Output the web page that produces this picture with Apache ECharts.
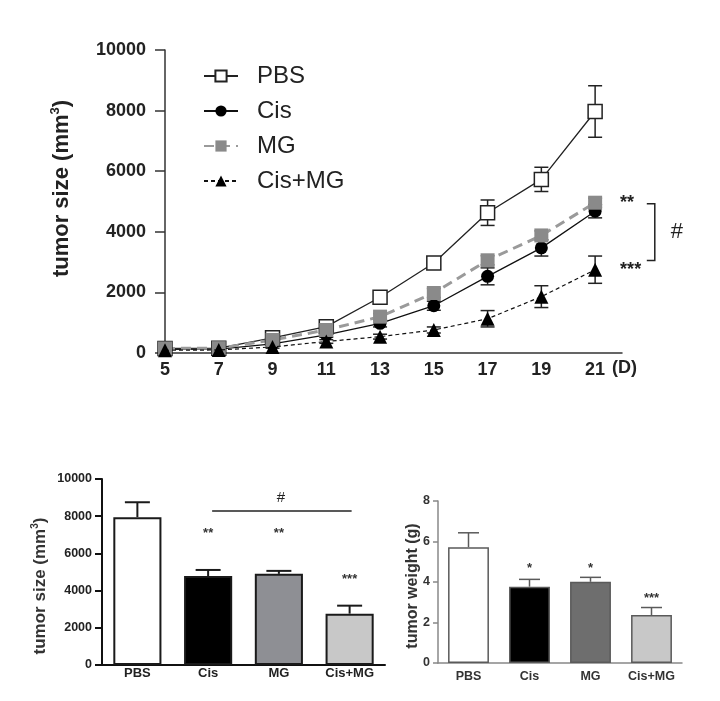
<!DOCTYPE html>
<html><head><meta charset="utf-8">
<script src="https://cdn.jsdelivr.net/npm/echarts@6/dist/echarts.min.js"></script>
<style>html,body{margin:0;padding:0;background:#fff}#c{width:720px;height:701px}</style>
</head><body><div id="c"></div>
<script>
// ---- data ----
var days = [5, 7, 9, 11, 13, 15, 17, 19, 21];
var pbs = [150, 160, 500, 870, 1840, 2970, 4630, 5730, 7970];
var pbsErr = [30, 30, 60, 100, 150, 200, 420, 400, 850];
var cis = [120, 130, 300, 600, 980, 1560, 2530, 3470, 4680];
var cisErr = [20, 20, 50, 80, 120, 150, 280, 270, 220];
var mg = [150, 160, 430, 760, 1200, 1980, 3060, 3880, 4960];
var mgErr = [20, 20, 50, 80, 100, 150, 150, 150, 150];
var cismg = [90, 100, 200, 380, 540, 760, 1130, 1860, 2750];
var cismgErr = [20, 20, 40, 60, 80, 100, 270, 360, 450];

var groups = ['PBS', 'Cis', 'MG', 'Cis+MG'];
var sizeVals = [7950, 4780, 4900, 2760];
var sizeErr = [800, 330, 160, 430];
var weightVals = [5.72, 3.77, 4.01, 2.37];
var weightErr = [0.71, 0.36, 0.22, 0.37];
var sizeSig = ['', '**', '**', '***'];
var weightSig = ['', '*', '*', '***'];

var F = 'Liberation Sans, Arial, sans-serif';
var leftColors = ['#ffffff', '#000000', '#8e8f94', '#c8c8c8'];
var rightColors = ['#ffffff', '#000000', '#6e6e6e', '#c8c8c8'];

function pairs(xs, ys) { return xs.map(function (x, i) { return [x, ys[i]]; }); }
function errData(xs, ys, es) { return xs.map(function (x, i) { return [x, ys[i], es[i]]; }); }
function plain(v) { return String(v); }

function errRender(capW, both, color, lw) {
  return function (params, api) {
    var x = api.value(0), y = api.value(1), e = api.value(2);
    var c = api.coord([x, y]);
    var hi = api.coord([x, y + e]);
    var lo = both ? api.coord([x, y - e]) : c;
    var h = capW / 2;
    var st = { stroke: color, lineWidth: lw, fill: null };
    var ch = [
      { type: 'line', shape: { x1: c[0], y1: lo[1], x2: c[0], y2: hi[1] }, style: st },
      { type: 'line', shape: { x1: c[0] - h, y1: hi[1], x2: c[0] + h, y2: hi[1] }, style: st }
    ];
    if (both) ch.push({ type: 'line', shape: { x1: c[0] - h, y1: lo[1], x2: c[0] + h, y2: lo[1] }, style: st });
    return { type: 'group', children: ch };
  };
}

var last = days.length - 1;
function sigLabel(arr, idx, txt, dist) {
  return arr.map(function (v, i) {
    if (i !== idx) return [days[i], v];
    return { value: [days[i], v], label: { show: true, position: 'right', distance: dist, formatter: txt, fontFamily: F, fontSize: 18, fontWeight: 'bold', color: '#222' } };
  });
}

var chart = echarts.init(document.getElementById('c'), null, { renderer: 'canvas' });
var option = {
  animation: false,
  backgroundColor: '#fff',
  textStyle: { fontFamily: F },
  legend: {
    orient: 'vertical', left: 203, top: 64, padding: 0,
    itemWidth: 34, itemHeight: 14, itemGap: 11,
    textStyle: { fontFamily: F, fontSize: 24, color: '#222', lineHeight: 24, padding: [0, 0, 0, 14] },
    data: ['PBS', 'Cis', 'MG', 'Cis+MG']
  },
  grid: [
    { left: 165, right: 98, top: 50, bottom: 348 },
    { left: 102, right: 335, top: 479, bottom: 36 },
    { left: 438, right: 38, top: 501, bottom: 38 }
  ],
  xAxis: [
    {
      gridIndex: 0, type: 'value', min: 5, max: 22, interval: 2,
      splitLine: { show: false },
      axisLine: { lineStyle: { color: '#333', width: 1.5 } },
      axisTick: { show: false },
      axisLabel: { fontFamily: F, fontSize: 18, fontWeight: 'bold', color: '#222', margin: 8,
        formatter: function (v) { return v === 22 ? '' : String(v); } },
      name: '(D)', nameLocation: 'end', nameGap: -10,
      nameTextStyle: { fontFamily: F, fontSize: 18, fontWeight: 'bold', color: '#222', verticalAlign: 'top', padding: [6, 0, 0, 0] }
    },
    {
      gridIndex: 1, type: 'category', data: groups,
      axisLine: { lineStyle: { color: '#111', width: 2 } },
      axisTick: { alignWithLabel: true, length: 4, lineStyle: { color: '#111', width: 2 } },
      axisLabel: { fontFamily: F, fontSize: 13, fontWeight: 'bold', color: '#222', margin: 2 }
    },
    {
      gridIndex: 2, type: 'category', data: groups,
      axisLine: { lineStyle: { color: '#888', width: 1.5 } },
      axisTick: { alignWithLabel: true, length: 4, lineStyle: { color: '#888', width: 1.5 } },
      axisLabel: { fontFamily: F, fontSize: 12.5, fontWeight: 'bold', color: '#333', margin: 7 }
    }
  ],
  yAxis: [
    {
      gridIndex: 0, type: 'value', min: 0, max: 10000, interval: 2000,
      splitLine: { show: false },
      axisLine: { show: true, lineStyle: { color: '#333', width: 1.5 } },
      axisTick: { show: true, length: 10, lineStyle: { color: '#333', width: 1.5 } },
      axisLabel: { fontFamily: F, fontSize: 18, fontWeight: 'bold', color: '#222', margin: 19, formatter: plain },
      name: 'tumor size (mm{sup|3})', nameLocation: 'middle', nameGap: 90, nameRotate: 90, nameMoveOverlap: false,
      nameTextStyle: { fontFamily: F, fontSize: 22, fontWeight: 'bold', color: '#222', lineHeight: 26, padding: [0, 0, 0, 26],
        rich: { sup: { fontFamily: F, fontSize: 13, fontWeight: 'bold', color: '#222', verticalAlign: 'top', lineHeight: 26 } } }
    },
    {
      gridIndex: 1, type: 'value', min: 0, max: 10000, interval: 2000,
      splitLine: { show: false },
      axisLine: { show: true, lineStyle: { color: '#111', width: 2 } },
      axisTick: { show: true, length: 7, lineStyle: { color: '#111', width: 2 } },
      axisLabel: { fontFamily: F, fontSize: 12.5, fontWeight: 'bold', color: '#222', margin: 10, formatter: plain },
      name: 'tumor size (mm{sup|3})', nameLocation: 'middle', nameGap: 52, nameRotate: 90, nameMoveOverlap: false,
      nameTextStyle: { fontFamily: F, fontSize: 17, fontWeight: 'bold', color: '#333', lineHeight: 20, padding: [0, 28, 0, 0],
        rich: { sup: { fontFamily: F, fontSize: 10, fontWeight: 'bold', color: '#333', verticalAlign: 'top', lineHeight: 20 } } }
    },
    {
      gridIndex: 2, type: 'value', min: 0, max: 8, interval: 2,
      splitLine: { show: false },
      axisLine: { show: true, lineStyle: { color: '#888', width: 1.5 } },
      axisTick: { show: true, length: 5, lineStyle: { color: '#888', width: 1.5 } },
      axisLabel: { fontFamily: F, fontSize: 12.5, fontWeight: 'bold', color: '#333', margin: 8, formatter: plain },
      name: 'tumor weight (g)', nameLocation: 'middle', nameGap: 17, nameRotate: 90, nameMoveOverlap: false,
      nameTextStyle: { fontFamily: F, fontSize: 16, fontWeight: 'bold', color: '#333', padding: [0, 8, 0, 0] }
    }
  ],
  series: [
    { type: 'custom', xAxisIndex: 0, yAxisIndex: 0, z: 1, silent: true, renderItem: errRender(14, true, '#222', 1.5), data: errData(days, pbs, pbsErr) },
    { type: 'custom', xAxisIndex: 0, yAxisIndex: 0, z: 1, silent: true, renderItem: errRender(14, true, '#222', 1.5), data: errData(days, cis, cisErr) },
    { type: 'custom', xAxisIndex: 0, yAxisIndex: 0, z: 1, silent: true, renderItem: errRender(14, true, '#777', 1.5), data: errData(days, mg, mgErr) },
    { type: 'custom', xAxisIndex: 0, yAxisIndex: 0, z: 1, silent: true, renderItem: errRender(14, true, '#222', 1.5), data: errData(days, cismg, cismgErr) },
    {
      name: 'PBS', type: 'line', xAxisIndex: 0, yAxisIndex: 0, z: 3,
      data: pairs(days, pbs), symbol: 'rect', symbolSize: 14,
      itemStyle: { color: '#ffffff', borderColor: '#222', borderWidth: 1.5 },
      lineStyle: { color: '#222', width: 1.3 }
    },
    {
      name: 'Cis', type: 'line', xAxisIndex: 0, yAxisIndex: 0, z: 3,
      data: pairs(days, cis), symbol: 'circle', symbolSize: 13,
      itemStyle: { color: '#000' },
      lineStyle: { color: '#111', width: 1.3 }
    },
    {
      name: 'MG', type: 'line', xAxisIndex: 0, yAxisIndex: 0, z: 3,
      data: sigLabel(mg, last, '**', 18), symbol: 'rect', symbolSize: 14,
      itemStyle: { color: '#8a8a8a' },
      lineStyle: { color: '#9a9a9a', width: 3, type: [10, 6] }
    },
    {
      name: 'Cis+MG', type: 'line', xAxisIndex: 0, yAxisIndex: 0, z: 4,
      data: sigLabel(cismg, last, '***', 18), symbol: 'triangle', symbolSize: 14,
      itemStyle: { color: '#000' },
      lineStyle: { color: '#111', width: 1.2, type: [4, 3] }
    },
    {
      type: 'bar', xAxisIndex: 1, yAxisIndex: 1, barWidth: '68%', z: 2,
      data: sizeVals.map(function (v, i) { return { value: v, itemStyle: { color: leftColors[i], borderColor: '#1a1a1a', borderWidth: 2 } }; })
    },
    { type: 'custom', xAxisIndex: 1, yAxisIndex: 1, z: 1, silent: true, renderItem: errRender(25, false, '#1a1a1a', 2), data: errData(groups.map(function (g, i) { return i; }), sizeVals, sizeErr) },
    {
      type: 'bar', xAxisIndex: 2, yAxisIndex: 2, barWidth: '67%', z: 2,
      data: weightVals.map(function (v, i) { return { value: v, itemStyle: { color: rightColors[i], borderColor: '#5a5a5a', borderWidth: 1.5 } }; })
    },
    { type: 'custom', xAxisIndex: 2, yAxisIndex: 2, z: 1, silent: true, renderItem: errRender(21, false, '#5a5a5a', 1.5), data: errData(groups.map(function (g, i) { return i; }), weightVals, weightErr) }
  ]
};
chart.setOption(option);

// annotations positioned through the axes
var sizeSigAt = [0, 7100, 7100, 4620];
var weightSigAt = [0, 4.69, 4.69, 3.21];
var g = [];
function px(grid, pt) { return chart.convertToPixel({ xAxisIndex: grid, yAxisIndex: grid }, pt); }
var bTop = px(0, [21, mg[last]]);
var bBot = px(0, [21, cismg[last] + 300]);
var bx = px(0, [23.22, 0])[0];
g.push({ type: 'polyline', shape: { points: [[bx - 8, bTop[1] + 1], [bx, bTop[1] + 1], [bx, bBot[1]], [bx - 8, bBot[1]]] }, style: { stroke: '#222', lineWidth: 1.5, fill: null } });
g.push({ type: 'text', x: bx + 22, y: (bTop[1] + bBot[1]) / 2, style: { text: '#', font: '22px ' + F, fill: '#222', align: 'center', verticalAlign: 'middle' } });
groups.forEach(function (name, i) {
  if (sizeSig[i]) {
    var p = px(1, [i, sizeSigAt[i]]);
    g.push({ type: 'text', x: p[0], y: p[1], style: { text: sizeSig[i], font: 'bold 13px ' + F, fill: '#333', align: 'center', verticalAlign: 'middle' } });
  }
  if (weightSig[i]) {
    var q = px(2, [i, weightSigAt[i]]);
    g.push({ type: 'text', x: q[0], y: q[1], style: { text: weightSig[i], font: 'bold 13px ' + F, fill: '#333', align: 'center', verticalAlign: 'middle' } });
  }
});
var l1 = px(1, [1, 8280]), l2 = px(1, [3, 8280]);
g.push({ type: 'line', shape: { x1: l1[0] + 4, y1: l1[1], x2: l2[0] + 2, y2: l2[1] }, style: { stroke: '#222', lineWidth: 1.5 } });
var ht = px(1, [2, 8980]);
g.push({ type: 'text', x: (l1[0] + l2[0]) / 2 + 2, y: ht[1], style: { text: '#', font: '15px ' + F, fill: '#222', align: 'center', verticalAlign: 'middle' } });
chart.setOption({ graphic: g });
</script>
</body></html>
